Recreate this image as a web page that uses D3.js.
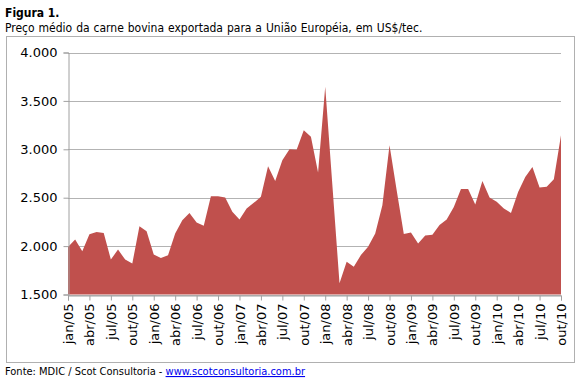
<!DOCTYPE html>
<html>
<head>
<meta charset="utf-8">
<script src="https://cdn.jsdelivr.net/npm/d3@7"></script>
<style>
  body { margin: 0; background: #fff; }
  text { font-family: "DejaVu Sans Condensed", "DejaVu Sans", sans-serif; }
</style>
</head>
<body>
<script>
// meses (jan/05 .. out/10) e preço médio em US$/tec
var meses = ["jan","fev","mar","abr","mai","jun","jul","ago","set","out","nov","dez"];
var anos = ["05","06","07","08","09","10"];
var precos = [
  1990, 2067, 1947, 2122, 2146, 2136, 1861, 1964, 1861, 1820, 2204, 2153,
  1912, 1878, 1905, 2129, 2266, 2343, 2244, 2209, 2515, 2515, 2502, 2354,
  2275, 2389, 2447, 2509, 2825, 2673, 2887, 3000, 2995, 3196, 3130, 2760,
  3645, 2630, 1615, 1838, 1787, 1907, 1993, 2130, 2422, 3041, 2577, 2124,
  2141, 2027, 2110, 2117, 2217, 2275, 2405, 2591, 2591, 2430, 2673, 2502,
  2457, 2389, 2343, 2560, 2715, 2818, 2605, 2612, 2690, 3144
];
var yTicks = [1500, 2000, 2500, 3000, 3500, 4000];

var labels = precos.map(function(d, i) {
  return meses[i % 12] + "/" + anos[Math.floor(i / 12)];
});
var data = precos.map(function(d, i) { return {i: i, v: d, label: labels[i]}; });

var width = 583, height = 381;
var axisFont = "'DejaVu Sans', sans-serif";
var svg = d3.select("body").append("svg")
    .attr("width", width)
    .attr("height", height);

// titulo
svg.append("text").attr("x", 5).attr("y", 17)
    .attr("font-size", 12).attr("font-weight", "bold")
    .text("Figura 1.");
svg.append("text").attr("x", 5).attr("y", 32)
    .attr("font-size", 12)
    .attr("word-spacing", 0.5)
    .text("Preço médio da carne bovina exportada para a União Européia, em US$/tec.");

// moldura do grafico
svg.append("rect")
    .attr("x", 6.5).attr("y", 36.5)
    .attr("width", 568).attr("height", 326)
    .attr("fill", "none").attr("stroke", "#b0b0b0");

var x = d3.scaleLinear().domain([0, precos.length - 1]).range([68, 561]);
var y = d3.scaleLinear().domain([1500, 4000]).range([294.5, 52.5]);

var br = d3.formatLocale({decimal: ",", thousands: ".", grouping: [3], currency: ["", ""]});
var fmt = br.format(",");

// grade
svg.append("g").selectAll("line")
    .data(yTicks)
    .enter().append("line")
    .attr("x1", x(0)).attr("x2", x(precos.length - 1))
    .attr("y1", function(d){ return Math.round(y(d)) + 0.5; })
    .attr("y2", function(d){ return Math.round(y(d)) + 0.5; })
    .attr("stroke", "#b3b3b3");

// area
svg.append("path")
    .datum(data)
    .attr("fill", "#c0504d")
    .attr("d", d3.area()
        .x(function(d){ return x(d.i); })
        .y0(y(1500))
        .y1(function(d){ return y(d.v); }));

// eixo y
var yAxis = svg.append("g")
    .attr("transform", "translate(" + (Math.round(x(0)) + 0.5) + ",0)")
    .call(d3.axisLeft(y).tickValues(yTicks).tickFormat(fmt).tickSize(5).tickPadding(6));
yAxis.select(".domain").attr("stroke", "#a0a0a0");
yAxis.selectAll(".tick line").attr("stroke", "#a0a0a0");
yAxis.selectAll("text").attr("font-size", 13).attr("fill", "#000")
    .style("font-family", axisFont);

// eixo x
var xIdx = d3.range(0, precos.length, 3);
var xAxis = svg.append("g")
    .attr("transform", "translate(0," + (Math.round(y(1500)) + 0.5) + ")")
    .call(d3.axisBottom(x).tickValues(xIdx)
        .tickFormat(function(i){ return labels[i]; })
        .tickSize(5).tickPadding(4));
xAxis.select(".domain").attr("stroke", "#a0a0a0");
xAxis.selectAll(".tick line").attr("stroke", "#a0a0a0");
xAxis.selectAll("text")
    .attr("font-size", 13).attr("fill", "#000")
    .style("font-family", axisFont)
    .attr("text-anchor", "end")
    .attr("dy", "0.35em")
    .attr("transform", "rotate(-90)")
    .attr("x", -8).attr("y", 0);

// fonte
var fonte = svg.append("text").attr("x", 5).attr("y", 375).attr("font-size", 11);
fonte.append("tspan").text("Fonte: MDIC / Scot Consultoria - ");
fonte.append("tspan").attr("fill", "#0000ee").attr("text-decoration", "underline")
    .text("www.scotconsultoria.com.br");
</script>
</body>
</html>
